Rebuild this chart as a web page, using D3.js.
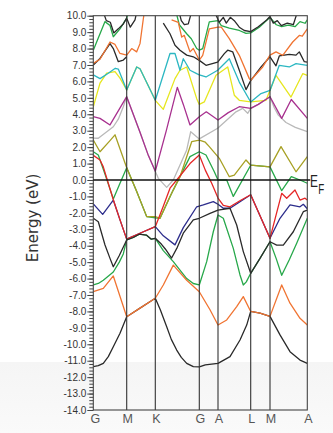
<!DOCTYPE html>
<html>
<head>
<meta charset="utf-8">
<script src="https://cdn.jsdelivr.net/npm/d3@7"></script>
<style>
  body { margin: 0; background: #fff; }
  svg { display: block; }
</style>
</head>
<body>
<svg id="chart"></svg>
<script>
// k-path (distance along path) and labels
const kLabels = ['G', 'M', 'K', 'G', 'A', 'L', 'M', 'A'];
const kPos = [0, 33.4, 62, 106, 124.7, 157.4, 176.7, 214];
const yTickValues = [-14, -13, -12, -11, -10, -9, -8, -7, -6, -5, -4, -3, -2, -1, 0, 1, 2, 3, 4, 5, 6, 7, 8, 9, 10];

// bands, [k, energy eV]
const black1 = [[0,-11.36],[5,-11.3],[10,-11.16],[15,-10.75],[20,-10.15],[26.7,-9.33],[33.4,-8.32],[46.7,-7.8],[62,-7.2],[67,-7.9],[73.4,-8.93],[78,-9.7],[83.4,-10.35],[88,-10.8],[93.4,-11.16],[100,-11.36],[106,-11.38],[112,-11.25],[124.7,-11.16],[136.7,-10.75],[146.7,-9.74],[153.4,-8.83],[157.4,-8.0],[166.7,-8.1],[176.7,-8.3],[186.7,-9.43],[196.7,-10.45],[206.7,-10.96],[214,-11.16]];
const orange1 = [[0,-6.8],[10,-6.6],[20,-5.84],[33.4,-8.32],[46.7,-7.8],[62,-7.2],[70,-6.39],[80,-5.18],[93.4,-6.1],[106,-6.8],[116.7,-7.9],[124.7,-8.83],[133.4,-8.52],[143.4,-7.71],[150,-7.1],[157.4,-8.0],[166.7,-8.1],[176.7,-8.3],[188.4,-6.39],[196.7,-7.5],[206.7,-8.42],[214,-8.83]];
const green2 = [[0,-6.39],[5,-6.3],[10,-6.1],[20,-5.6],[26,-5.0],[30,-4.5],[33.4,-3.65],[40,-3.5],[46,-3.3],[53,-3.35],[58,-3.6],[62,-3.55],[70,-4.3],[80,-4.97],[93.4,-6.0],[100,-6.3],[106,-6.39],[113.4,-4.97],[120,-3.15],[124.7,-2.13],[130,-2.33],[140,-4.16],[146.7,-5.78],[150,-6.39],[153,-6.2],[157.4,-5.68],[166.7,-4.77],[176.7,-3.76],[183,-4.8],[188.4,-5.8],[196,-4.85],[203.4,-3.85],[214,-2.33]];
const black2 = [[0,-2.33],[5,-2.54],[11.7,-3.96],[16.7,-4.77],[20,-5.28],[26,-4.6],[33.4,-3.65],[40,-3.5],[46,-3.3],[53,-3.35],[58,-3.6],[62,-3.55],[68,-3.9],[72,-4.2],[78.3,-4.75],[84,-4.1],[90,-3.24],[100,-2.43],[106,-2.33],[116.7,-2.03],[124.7,-1.83],[136.7,-1.72],[143.4,-2.74],[150,-4.36],[157.4,-5.68],[166.7,-4.77],[176.7,-3.76],[183.4,-3.96],[190,-3.96],[200,-3.15],[210,-1.93],[214,-1.83]];
const navy = [[0,-1.45],[9.4,-2.09],[20,-1.22],[26.7,-2.43],[33.4,-3.6],[46.7,-3.24],[62,-2.84],[70,-3.4],[81.7,-3.95],[90,-2.9],[103.4,-1.63],[110,-1.52],[120,-1.32],[124.7,-1.48],[130,-1.72],[136.7,-1.72],[146.7,-1.32],[157.4,-0.9],[176.7,-3.55],[186.7,-2.33],[196.7,-1.52],[206.7,-1.63],[210,-1.48],[214,-1.75]];
const red = [[0,1.5],[6.7,1.22],[10,0.8],[20,-1.2],[26.7,-2.43],[33.4,-3.6],[46.7,-3.24],[62,-2.84],[70,-1.6],[76.7,-0.5],[83.4,0],[96.7,1.0],[106,1.52],[112,0.6],[118.4,-0.2],[124.7,-1.1],[130,-1.55],[136.7,-1.63],[147,-1.25],[157.4,-0.9],[176.7,-3.55],[188.4,-0.81],[193.4,-1.11],[201.7,-0.61],[206.7,-1.22],[211.7,-1.11],[214,-1.22]];
const olive = [[0,2.43],[6.7,1.72],[16.7,2.4],[21.7,2.75],[33.4,0.75],[43.4,-0.7],[53.4,-2.23],[62,-2.23],[66.7,-2.33],[76.7,-1.0],[86.7,0.2],[98.4,2.33],[106,2.43],[112,2.3],[116,2.03],[126,1.32],[136,0.2],[141,0.3],[152.7,1.22],[157.4,0.9],[176.7,0.8],[187.7,2.03],[202.7,0.5],[214,1.42]];
const green3 = [[0,1.72],[5,1.52],[12,0.3],[20,-1.15],[26.7,-0.2],[33.4,0.75],[43.4,-0.7],[53.4,-2.23],[62,-2.3],[66.7,-2.33],[80,-0.6],[96.7,1.42],[106,1.72],[112.7,1.52],[121,0.5],[124.7,0],[133.4,0],[140,-1.0],[157.4,0.9],[176.7,0.8],[188.4,-0.65],[198,0.2],[206.7,0],[214,-0.2]];
const gray = [[0,2.55],[5,2.54],[20,3.24],[25,3.7],[30,4.46],[33.4,5.07],[46.7,2.9],[55,1.5],[62,0.53],[65,0.1],[73.4,-0.45],[80,0],[93.4,1.83],[97.4,2.94],[106,2.5],[124.4,3.15],[142.7,4.15],[149.4,4.36],[154.4,4.06],[157.4,4.36],[165,4.6],[176.7,5.07],[181,4.4],[185,3.95],[192.7,3.5],[202,3.2],[214,2.94]];
const magenta = [[0,3.85],[6.7,3.75],[16.7,3.35],[33.4,5.07],[46.7,2.9],[55,1.5],[62,0.53],[73,3.0],[84,5.64],[90,4.6],[96.7,3.35],[106,3.85],[113,4.15],[124.7,3.65],[135,4.1],[146,4.46],[157.4,4.36],[165,4.6],[176.7,5.07],[188.4,3.75],[198,4.9],[214,3.75]];
const yellow = [[0,4.45],[6.7,5.9],[13.4,6.5],[21.7,6.6],[26.7,6.2],[33.4,5.48],[43.4,6.88],[46.7,6.77],[62,4.85],[70,4.3],[81.7,6.17],[86.7,6.68],[93.4,6.88],[103.4,4.95],[106,4.6],[111,4.75],[122.7,6.37],[134.4,6.88],[141,5.16],[146,4.85],[157.4,4.75],[172.7,4.85],[182.7,6.37],[197.7,5.05],[209.4,6.47],[214,6.37]];
const cyan = [[0,6.4],[6.7,6.17],[15,6.5],[22,6.8],[25,6.75],[33.4,5.48],[43.4,6.88],[46.7,6.77],[62,4.85],[76.7,7.7],[81.7,7.7],[86.7,6.68],[90,7.38],[96.7,6.68],[103.4,6.47],[106,6.4],[112.7,6.27],[124.4,6.68],[136,7.38],[146,5.96],[157.4,4.75],[167.7,5.26],[176.7,5.45],[186,6.98],[196,6.88],[202.7,7.08],[214,6.98]];
const black3 = [[0,7.0],[6.7,7.4],[16.7,8.3],[20,8.0],[25,7.2],[30,7.3],[33.4,7.5]];
const orange2 = [[0,7.1],[6.7,7.35],[16.7,8.4],[21.7,8.25],[26.7,7.7],[33.4,7.6],[38.4,8.0],[43.4,7.8],[46.7,8.3],[50,9.8],[51.5,10.4]];
const green4 = [[0,7.9],[11.7,9.64],[16.7,9.4],[20,8.72],[26.7,9.2],[33.4,9.85],[36,10.4]];
const black4 = [[9,10.4],[13,9.7],[17,9.6],[20.5,8.95],[25,9.2],[30,9.5],[33.4,9.85],[37,9.3],[41.7,9.74],[44,10.4]];
const blackKG = [[70,9.55],[76.7,8.9],[81.7,8.2],[86.7,7.9],[93.4,7.6],[100,7.5],[106,7.28],[112.7,6.98],[124.4,7.18],[131,7.69],[134.4,7.9],[139.4,7.8],[146,6.68],[152.7,5.5],[157.4,6.05],[168,6.9],[176.7,7.5],[182.7,6.95],[186,7.55],[196,7.65],[202.7,7.6],[206,7.8],[211,7.2],[214,7.18]];
const orange3 = [[78.3,9.75],[85,9.6],[88.4,8.7],[91,8.8],[96.7,7.8],[100,8.0],[106,7.3],[109.4,7.59],[116,9.2],[124.7,9.3],[128,9.3],[136,8.6],[146,7.59],[156,6.17],[157.4,6.07],[169.4,6.88],[176.7,7.6],[182.7,7.8],[189.4,7.59],[199.4,8.4],[206,8.8],[209,8.75],[214,9.2]];
const green5 = [[82,10.4],[86,9.45],[93.4,8.9],[98,8.6],[103.4,8.0],[106,7.9],[109.4,8.0],[116,9.62],[124.7,9.7],[128,9.4],[136,9.25],[146,9.1],[152.7,8.93],[157.4,8.95],[166,9.3],[176.7,9.9],[183,9.45],[188.4,9.33],[195,9.43],[201.7,9.33],[206.7,9.64],[211.7,9.54],[214,9.74]];
const black5 = [[120,10.4],[126,9.6],[130,9.9],[133,9.55],[137,9.9],[141,9.7],[146,9.3],[151,9.1],[157.4,9.03],[165,9.33],[173.4,9.74],[176.7,9.95],[180,9.55],[184,9.7],[188,9.4],[194,9.55],[200,9.45],[205,10.4]];
const blackTop = [[85,10.4],[88,9.7],[91,9.45],[95,9.5],[99,10.4]];

// draw order, bottom first
const bands = [
  { pts: gray, c: 'gray' }, { pts: yellow, c: 'yellow' }, { pts: cyan, c: 'cyan' },
  { pts: magenta, c: 'magenta' }, { pts: green2, c: 'green' }, { pts: green3, c: 'green' },
  { pts: green4, c: 'green' }, { pts: green5, c: 'green' }, { pts: olive, c: 'olive' },
  { pts: navy, c: 'navy' }, { pts: red, c: 'red' },
  { pts: black1, c: 'black' }, { pts: black2, c: 'black' }, { pts: black3, c: 'black' },
  { pts: black4, c: 'black' }, { pts: black5, c: 'black' }, { pts: blackKG, c: 'black' }, { pts: blackTop, c: 'black' },
  { pts: orange1, c: 'orange' }, { pts: orange2, c: 'orange' }, { pts: orange3, c: 'orange' }
];
const colors = {
  black: '#2a2a2a', orange: '#f07432', green: '#27a84a', red: '#e52626', navy: '#2d2d8c',
  olive: '#a7a024', gray: '#b9b9b9', magenta: '#a8318f', yellow: '#e6e61e', cyan: '#2bb7c2'
};

const W = 333, H = 433;
const margin = { top: 15.7, left: 93.3 };
const width = 214, height = 394.3;

const svg = d3.select('#chart').attr('width', W).attr('height', H);

// faint grey band at the bottom of the photo
const grad = svg.append('defs').append('linearGradient')
  .attr('id', 'bot').attr('x1', 0).attr('y1', 0).attr('x2', 0).attr('y2', 1);
grad.append('stop').attr('offset', 0).attr('stop-color', '#f5f5f5');
grad.append('stop').attr('offset', 1).attr('stop-color', '#fafafa');
svg.append('rect').attr('x', 0).attr('y', 362).attr('width', W).attr('height', H - 362)
  .attr('fill', 'url(#bot)');

svg.select('defs').append('clipPath').attr('id', 'clip')
  .append('rect').attr('width', width).attr('height', height);

const g = svg.append('g').attr('transform', `translate(${margin.left},${margin.top})`);

const x = d3.scaleLinear().domain([0, 214]).range([0, width]);
const y = d3.scaleLinear().domain([-14, 10]).range([height, 0]);

// minor ticks
g.append('g')
  .call(d3.axisLeft(y).tickValues(d3.range(-14, 10.001, 0.2)).tickSize(4).tickFormat(''))
  .call(a => a.select('.domain').remove())
  .selectAll('line').attr('stroke', '#444');

// major ticks + labels
g.append('g')
  .call(d3.axisLeft(y).tickValues(yTickValues).tickSize(6).tickPadding(1).tickFormat(d => d.toFixed(1)))
  .call(a => a.select('.domain').remove())
  .call(a => a.selectAll('line').attr('stroke', '#444'))
  .selectAll('text')
  .attr('fill', '#333')
  .style('font', '10px "Liberation Sans", Arial, sans-serif');

// bands
const line = d3.line().x(d => x(d[0])).y(d => y(d[1]));
g.append('g').attr('clip-path', 'url(#clip)')
  .selectAll('path')
  .data(bands)
  .enter().append('path')
  .attr('d', d => line(d.pts))
  .attr('fill', 'none')
  .attr('stroke', d => colors[d.c])
  .attr('stroke-width', 1.3)
  .attr('stroke-linejoin', 'round');

// k-point lines
g.append('g')
  .selectAll('line')
  .data(kPos.slice(1, -1))
  .enter().append('line')
  .attr('x1', d => x(d)).attr('x2', d => x(d))
  .attr('y1', 0).attr('y2', height)
  .attr('stroke', '#333').attr('stroke-width', 1.1);

// frame
g.append('rect')
  .attr('width', width).attr('height', height)
  .attr('fill', 'none').attr('stroke', '#444').attr('stroke-width', 1.1);

// fermi level
g.append('line')
  .attr('x1', 0).attr('x2', width + 3)
  .attr('y1', y(0)).attr('y2', y(0))
  .attr('stroke', '#111').attr('stroke-width', 1.3);

// E_F, one text with a subscript tspan, squeezed sideways
const ef = svg.append('text')
  .attr('transform', 'translate(310,186.5) scale(0.7,1)')
  .style('font', '17px "Liberation Sans", Arial, sans-serif')
  .attr('fill', '#222');
ef.append('tspan').text('E');
ef.append('tspan').attr('dx', 0.5).attr('dy', 7).style('font-size', '14px').text('F');

// k labels
g.append('g')
  .selectAll('text')
  .data(kLabels)
  .enter().append('text')
  .attr('x', (d, i) => x(kPos[i]) + (i === 0 ? 2 : 1))
  .attr('y', height + 13)
  .attr('text-anchor', 'middle')
  .attr('fill', '#555')
  .style('font', '12.5px "Liberation Sans", Arial, sans-serif')
  .text(d => d);

// y label
svg.append('text')
  .attr('transform', 'translate(37.5,218) rotate(-90)')
  .attr('text-anchor', 'middle')
  .attr('fill', '#333')
  .style('font', '15px "DejaVu Sans", sans-serif')
  .text('Energy (eV)');
</script>
</body>
</html>
